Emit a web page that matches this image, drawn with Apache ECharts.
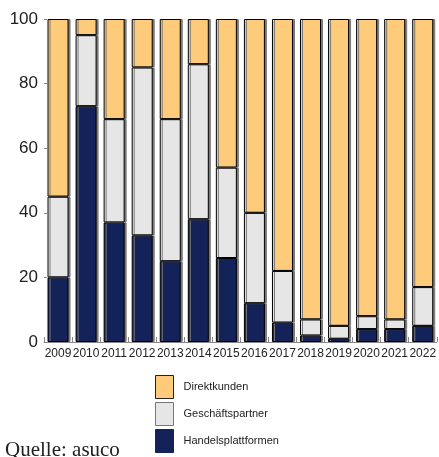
<!DOCTYPE html>
<html>
<head>
<meta charset="utf-8">
<script src="https://cdn.jsdelivr.net/npm/echarts@6/dist/echarts.min.js"></script>
<style>html,body{margin:0;padding:0;background:#fff}#c{width:439px;height:457px}</style>
</head>
<body>
<div id="c"></div>
<script>
var years = ['2009','2010','2011','2012','2013','2014','2015','2016','2017','2018','2019','2020','2021','2022'];
var handelsplattformen = [20,73,37,33,25,38,26,12,6,2,1,4,4,5];
var geschaeftspartner = [25,22,32,52,44,48,28,28,16,5,4,4,3,12];
var direktkunden = [55,5,31,15,31,14,46,60,78,93,95,92,93,83];
var yTicks = [0,20,40,60,80,100];

var chart = echarts.init(document.getElementById('c'), null, {renderer:'canvas'});
function barStyle(color){
  return {color: color, borderColor:'#000', borderWidth:1, shadowColor:'#7a7a7a', shadowOffsetX:2, shadowOffsetY:0, shadowBlur:0};
}
chart.setOption({
  animation:false,
  grid:{left:44, right:0, top:19, bottom:115, containLabel:false},
  legend:{
    orient:'vertical', left:155, top:375, height:90, padding:0, icon:'rect',
    itemWidth:18, itemHeight:23, itemGap:3,
    textStyle:{fontFamily:'Liberation Sans', fontSize:11, color:'#222', padding:[0,0,0,5]},
    data:[
      {name:'Direktkunden', itemStyle:{color:'#FDCB7A', borderColor:'#222', borderWidth:1, shadowBlur:0, shadowOffsetX:0}},
      {name:'Geschäftspartner', itemStyle:{color:'#E6E6E6', borderColor:'#777', borderWidth:1, shadowBlur:0, shadowOffsetX:0}},
      {name:'Handelsplattformen', itemStyle:{color:'#14225A', borderColor:'#14225A', borderWidth:1, shadowBlur:0, shadowOffsetX:0}}
    ]
  },
  graphic:[{type:'text', left:5, top:440, style:{text:'Quelle: asuco', font:'21px "Liberation Serif"', fill:'#222'}}],
  xAxis:{
    type:'category', data:years,
    axisLine:{show:true, lineStyle:{color:'#888', width:1}},
    axisTick:{show:true, inside:true, length:5, alignWithLabel:false, lineStyle:{color:'#888'}},
    axisLabel:{fontFamily:'Liberation Sans', fontSize:12, color:'#222', margin:6, interval:0}
  },
  yAxis:{
    type:'value', min:0, max:100, interval:20,
    axisLine:{show:false},
    axisTick:{show:true, inside:true, length:3, lineStyle:{color:'#888'}},
    splitLine:{show:false},
    axisLabel:{fontFamily:'Liberation Sans', fontSize:17, color:'#222', margin:6,
      formatter:function(v){return yTicks.indexOf(v)>=0 ? String(v) : '';}}
  },
  series:[
    {name:'Handelsplattformen', type:'bar', stack:'s', barWidth:21, data:handelsplattformen, itemStyle:barStyle('#14225A')},
    {name:'Geschäftspartner', type:'bar', stack:'s', barWidth:21, data:geschaeftspartner, itemStyle:barStyle('#E6E6E6')},
    {name:'Direktkunden', type:'bar', stack:'s', barWidth:21, data:direktkunden, itemStyle:barStyle('#FDCB7A')}
  ]
});
</script>
</body>
</html>
